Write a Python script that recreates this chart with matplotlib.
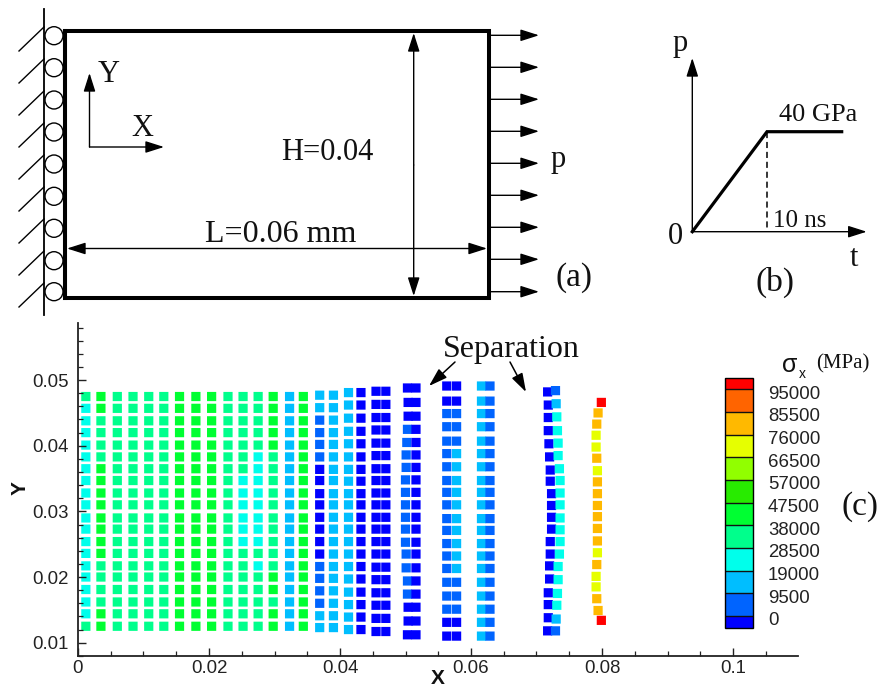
import numpy as np
import matplotlib
matplotlib.use("Agg")
import matplotlib.pyplot as plt
from matplotlib.cm import ScalarMappable
from matplotlib.colors import ListedColormap, BoundaryNorm
from matplotlib.patches import Circle, Rectangle
from matplotlib.ticker import FixedLocator, MultipleLocator
from matplotlib.transforms import ScaledTranslation

SANS = "Liberation Sans"
SERIF = "Liberation Serif"

# ---- contour levels and colours
levels = [0, 9500, 19000, 28500, 38000, 47500, 57000, 66500, 76000, 85500, 95000]
level_labels = ["0", "9500", "19000", "28500", "38000", "47500", "57000", "66500", "76000", "85500", "95000"]
band_colors = ["#0000ff", "#0064ff", "#00beff", "#00ffeb", "#00ff8c", "#00ff32",
               "#28eb00", "#91ff00", "#e6ff00", "#ffb900", "#ff6400", "#ff0000"]

# stress representatives (MPa) for each band
B, M, K, C, S, G, Y, A, R = -2000, 5000, 14000, 24000, 33000, 43000, 71000, 81000, 97000

# ---- row positions (Y) read per group of columns
rows_a = [.0475, .0457, .0438, .0420, .0401, .0383, .0365, .0347, .0328, .0310,
          .0290, .0273, .0254, .0236, .0217, .0200, .0181, .0162, .0144, .0125]
rows_b = [.0477, .0458, .0439, .0420, .0402, .0383, .0364, .0347, .0327, .0310,
          .0291, .0273, .0254, .0235, .0216, .0198, .0179, .0160, .0141, .0123]
rows_c = [.0481, .0462, .0442, .0422, .0403, .0383, .0364, .0346, .0327, .0310,
          .0291, .0273, .0254, .0235, .0216, .0197, .0177, .0158, .0139, .0120]
rows_d = [.0483, .0463, .0443, .0424, .0404, .0385, .0365, .0347, .0328, .0310,
          .0291, .0273, .0254, .0235, .0215, .0196, .0176, .0157, .0137, .0117]
rows_e = [.0488, .0466, .0445, .0425, .0405, .0386, .0367, .0348, .0329, .0310,
          .0291, .0273, .0253, .0235, .0214, .0194, .0174, .0154, .0133, .0112]
rows_f = [.0491, .0468, .0449, .0429, .0407, .0388, .0368, .0347, .0329, .0310,
          .0289, .0271, .0251, .0232, .0213, .0192, .0171, .0151, .0131, .0110]
rows_g = [.0482, .0462, .0443, .0423, .0403, .0383, .0363, .0346, .0327, .0309,
          .0291, .0273, .0254, .0235, .0217, .0197, .0176, .0158, .0138, .0118]
rows_h = [.0484, .0464, .0444, .0423, .0404, .0385, .0365, .0347, .0328, .0310,
          .0290, .0272, .0254, .0235, .0216, .0196, .0175, .0157, .0136, .0118]
rows_i = [.0466, .0450, .0433, .0416, .0398, .0381, .0362, .0345, .0327, .0309,
          .0292, .0274, .0255, .0237, .0219, .0201, .0185, .0167, .0149, .0134]

# ---- column X positions
column_x = [.0012, .0035, .0060, .0084, .0108, .0131, .0155, .0180, .0204, .0229,
            .0252, .0275, .0298, .0323, .0344, .0369, .0390, .0413, .0432, .0455,
            .0470, .0504, .0516, .0563, .0578, .0616, .0629]
x_col_22 = [.0503, .0504, .0504, .0503, .0502, .0501, .0501, .0500, .0500, .0500,
            .0500, .0500, .0500, .0501, .0501, .0503, .0503, .0504, .0504, .0503]
x_col_28 = [.0717, .0718, .0718, .0718, .0719, .0720, .0721, .0721, .0723, .0723,
            .0723, .0723, .0721, .0721, .0720, .0720, .0718, .0718, .0718, .0717]
x_col_29 = [.0729, .0730, .0731, .0732, .0733, .0733, .0735, .0736, .0736, .0736,
            .0736, .0736, .0736, .0735, .0733, .0733, .0732, .0731, .0730, .0729]
x_col_30 = [.0799, .0794, .0792, .0791, .0791, .0792, .0793, .0793, .0793, .0793,
            .0793, .0793, .0793, .0793, .0792, .0791, .0791, .0792, .0794, .0799]

# ---- stress per column, top row to bottom row
s01 = [S, C, C, C, C, C, C, C, C, C, C, C, C, C, C, C, C, C, C, S]
s02 = [G, G, S, S, S, S, G, G, G, G, G, G, G, G, S, S, S, S, G, G]
s_spring = [S] * 20
s_green = [G] * 20
s_sky = [K] * 20
s_mid = [M] * 20
s_blue = [B] * 20
s11 = [S, S, S, S, S, S, S, C, C, C, C, C, C, S, S, S, S, S, S, S]
s12 = [S, S, S, S, S, C, C, C, C, C, C, C, C, S, C, S, S, S, S, S]
s13 = [G, G, G, G, G, S, S, S, S, S, S, S, S, S, S, G, G, S, G, G]
s16 = [K, K, M, M, M, M, B, B, B, B, B, B, B, B, M, M, M, M, K, K]
s22 = [B, B, B, M, M, M, M, M, M, M, M, M, M, M, M, M, M, B, B, B]
s24 = [B, B, M, M, M, M, M, M, M, M, M, M, M, M, M, M, M, M, B, B]
s25 = [B, B, M, M, M, K, K, K, K, K, K, K, K, K, K, M, M, M, B, B]
s29 = [M, K, C, C, C, C, C, C, C, C, C, C, C, C, C, C, C, C, K, M]
s30 = [R, A, A, Y, Y, A, Y, A, A, A, A, A, A, Y, A, Y, Y, A, A, R]

columns = [
    (column_x[0], rows_a, s01), (column_x[1], rows_a, s02), (column_x[2], rows_a, s_spring),
    (column_x[3], rows_a, s_spring), (column_x[4], rows_a, s_spring), (column_x[5], rows_a, s_spring),
    (column_x[6], rows_a, s_green), (column_x[7], rows_a, s_green), (column_x[8], rows_a, s_green),
    (column_x[9], rows_a, s_spring), (column_x[10], rows_a, s11), (column_x[11], rows_a, s12),
    (column_x[12], rows_a, s13), (column_x[13], rows_a, s_sky), (column_x[14], rows_a, s_green),
    (column_x[15], rows_b, s16), (column_x[16], rows_b, s_sky), (column_x[17], rows_c, s_sky),
    (column_x[18], rows_c, s_blue), (column_x[19], rows_d, s_blue), (column_x[20], rows_d, s_blue),
    (x_col_22, rows_e, s22), (column_x[22], rows_e, s_blue), (column_x[23], rows_f, s24),
    (column_x[24], rows_f, s25), (column_x[25], rows_f, s_sky), (column_x[26], rows_f, s_mid),
    (x_col_28, rows_g, s_blue), (x_col_29, rows_h, s29), (x_col_30, rows_i, s30),
]

W, H = 879, 688
fig = plt.figure(figsize=(W / 100, H / 100), dpi=100)
fig.patch.set_facecolor("white")

cmap = ListedColormap(band_colors[1:-1])
cmap.set_under(band_colors[0])
cmap.set_over(band_colors[-1])
norm = BoundaryNorm(levels, cmap.N)

# ---- panel (c) chart
ax = fig.add_axes([78 / W, (H - 656) / H, 720 / W, 333 / H])
ax.set_xlim(0, 720 / 6550)
ax.set_ylim(0.00797, 0.0587)
for xc, yc, sc in columns:
    xv = np.broadcast_to(xc, (len(yc),))
    ax.scatter(xv, yc, c=sc, cmap=cmap, norm=norm, marker="s", s=44, linewidths=0,
               clip_on=False, snap=False)

for side in ("top", "right"):
    ax.spines[side].set_visible(False)
for side in ("left", "bottom"):
    ax.spines[side].set_linewidth(1.3)
    ax.spines[side].set_color("#222222")

ax.xaxis.set_major_locator(FixedLocator([0, .02, .04, .06, .08, .1]))
ax.set_xticklabels(["0", "0.02", "0.04", "0.06", "0.08", "0.1"])
ax.xaxis.set_minor_locator(MultipleLocator(.005))
ax.yaxis.set_major_locator(FixedLocator([.01, .02, .03, .04, .05]))
ax.set_yticklabels(["0.01", "0.02", "0.03", "0.04", "0.05"])
ax.yaxis.set_minor_locator(MultipleLocator(.002))
ax.tick_params(which="major", direction="in", length=5.5, width=1.0, labelsize=13.4, colors="#222222")
ax.tick_params(which="minor", direction="in", length=3.3, width=0.9, color="#222222")
ax.tick_params(axis="x", which="major", pad=3)
ax.tick_params(axis="y", which="major", pad=7)
for lab in ax.get_xticklabels() + ax.get_yticklabels():
    lab.set_fontfamily(SANS)

# ---- colour bar
cax = fig.add_axes([725.3 / W, (H - 628) / H, 28 / W, 250.3 / H])
cb = fig.colorbar(ScalarMappable(norm=norm, cmap=cmap), cax=cax, extend="both", extendrect=True,
                  extendfrac=(0.053, 0.051), spacing="uniform", drawedges=True, ticks=levels)
cb.outline.set_linewidth(1.0)
cb.dividers.set_linewidth(1.0)
cb.dividers.set_color("#111111")
cb.ax.minorticks_off()
cb.ax.tick_params(length=0, pad=10.5, labelsize=13.4, colors="#222222")
cb.ax.set_yticks(levels)
cb.ax.set_yticklabels(level_labels)
offset = ScaledTranslation(0, -3 / 72 * 0.72, fig.dpi_scale_trans)
for lab in cb.ax.get_yticklabels():
    lab.set_fontfamily(SANS)
    lab.set_transform(lab.get_transform() + offset)

# ---- overlay drawn in image pixels for the schematic panels and annotations
ov = fig.add_axes([0, 0, 1, 1], zorder=5)
ov.set_xlim(0, W)
ov.set_ylim(H, 0)
ov.axis("off")
ov.patch.set_alpha(0)


def arrow(x0, y0, x1, y1, lw=1.0, head=11.3, half=3.6):
    ov.annotate("", xy=(x1, y1), xytext=(x0, y0),
                arrowprops=dict(arrowstyle=f"-|>,head_length={head / 10},head_width={half / 10}",
                                mutation_scale=10, lw=lw, color="black", shrinkA=0, shrinkB=0))


def label(x, y, s, size=22, family=SERIF, **kw):
    ov.text(x, y, s, fontsize=size, family=family, ha="center", va="center", color="#111111", **kw)


# panel (a)
ov.add_patch(Rectangle((65, 31), 423.7, 267, fill=False, ec="black", lw=2.9, joinstyle="miter"))
ov.plot([44, 44], [9, 315], color="black", lw=1.3)
for y0 in [27, 59, 91, 123, 155, 187, 219, 251, 283]:
    ov.plot([44, 19], [y0, y0 + 24], color="black", lw=1.0)
for yc in [35.7, 67.7, 100, 132, 164, 196.3, 228.3, 260.7, 291.7]:
    ov.add_patch(Circle((54, yc), 9, fc="white", ec="black", lw=1.0, zorder=3))
ov.plot([65, 65], [31, 298], color="black", lw=2.9, zorder=4)
arrow(89.5, 147, 89.5, 73)
arrow(89.5, 147, 164, 147)
arrow(277, 248.5, 67, 248.5)
arrow(277, 248.5, 487, 248.5)
arrow(413.7, 165, 413.7, 33)
arrow(413.7, 165, 413.7, 296)
for yr in [35.3, 67.3, 99.3, 131.3, 163.3, 195.3, 227.3, 259.3, 291.7]:
    arrow(489, yr, 539, yr)
label(109, 75, "Y")
label(142, 128, "X")
label(327, 152, "H=0.04")
label(281, 234, "L=0.06 mm", size=23)
label(558, 160, "p")
label(574, 278, "(a)", size=24)

# panel (b)
arrow(692.3, 231.7, 692.3, 58)
arrow(692.3, 231.7, 866.7, 231.7)
ov.plot([692.3, 767, 841.7], [231.7, 131.7, 131.7], color="black", lw=2.3, solid_joinstyle="miter")
ov.plot([767, 767], [131.7, 231.7], color="black", lw=1.1, ls=(0, (4, 2.5)))
label(680, 44, "p")
label(675, 236, "0")
label(818.5, 115, "40 GPa", size=19)
label(800, 221, "10 ns", size=18)
label(854, 258, "t")
label(775, 282, "(b)", size=24)

# panel (c) annotations
label(511, 349, "Separation", size=23)
arrow(455, 362, 429, 386, lw=1.1)
arrow(510, 362, 526, 392, lw=1.1)
label(860, 507, "(c)", size=24)
label(790, 365, "σ", size=18, family=SANS)
label(802, 374, "x", size=10, family=SANS)
label(842.5, 364, "(MPa)", size=15)
label(438, 678, "X", size=15, family=SANS, fontweight="bold")
label(20, 488, "Y", size=15, family=SANS, fontweight="bold", rotation=90)

fig.savefig("out.png", dpi=100)
